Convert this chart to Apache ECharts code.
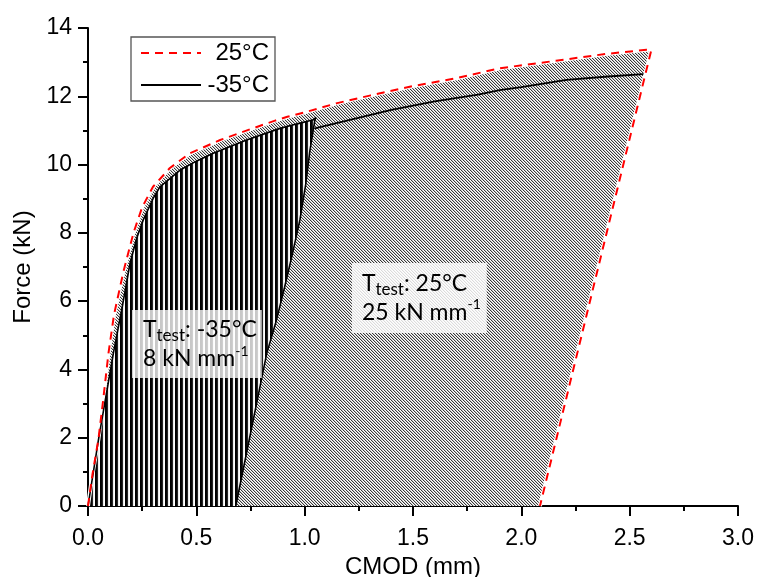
<!DOCTYPE html>
<html><head><meta charset="utf-8">
<script src="https://cdn.jsdelivr.net/npm/echarts@6/dist/echarts.min.js"></script>
<style>html,body{margin:0;padding:0;background:#fff}#c{width:759px;height:577px}</style>
</head><body><div id="c"></div>
<script>
// ---- data ----
const warmCMOD  = [0, 0.02, 0.048, 0.07, 0.094, 0.12, 0.163, 0.21, 0.25, 0.3, 0.378, 0.47, 0.61, 0.76, 0.86, 0.92, 1.0, 1.15, 1.3, 1.5, 1.7, 1.9, 2.16, 2.39, 2.578, 2.6, 2.086];
const warmForce = [0, 0.9, 1.95, 3.1, 4.45, 5.6, 6.85, 8.0, 8.75, 9.35, 9.9, 10.33, 10.72, 11.06, 11.28, 11.4, 11.53, 11.8, 12.02, 12.3, 12.53, 12.82, 13.04, 13.24, 13.36, 13.36, 0];
const coldCMOD  = [0, 0.048, 0.117, 0.16, 0.194, 0.225, 0.255, 0.3, 0.332, 0.425, 0.5, 0.578, 0.732, 0.886, 0.97, 1.04, 1.052];
const coldForce = [0, 1.93, 4.47, 5.9, 7.11, 7.85, 8.38, 9.0, 9.35, 9.84, 10.1, 10.33, 10.72, 11.06, 11.2, 11.31, 11.38];
const coldUnloadCMOD  = [1.052, 1.047, 1.024, 1.005, 0.978, 0.944, 0.907, 0.87, 0.825, 0.682];
const coldUnloadForce = [11.38, 11.3, 10.4, 9.43, 8.38, 7.4, 6.4, 5.45, 4.47, 0];
const coldTailCMOD  = [1.047, 1.209, 1.4, 1.6, 1.8, 1.9, 2.0, 2.209, 2.4, 2.563];
const coldTailForce = [11.06, 11.31, 11.6, 11.85, 12.05, 12.18, 12.27, 12.48, 12.58, 12.65];
const xTickLabels = ['0.0', '0.5', '1.0', '1.5', '2.0', '2.5', '3.0'];
const yTickLabels = ['0', '2', '4', '6', '8', '10', '12', '14'];
const legendNames = ['25°C', '-35°C'];
const note1 = '{a|T}{s|test}{a|: -35°C}\n{a|8 kN mm}{p|-1}';
const note2 = '{a|T}{s|test}{a|: 25°C}\n{a|25 kN mm}{p|-1}';
const note1Pos = [0.203, 5.74];
const note2Pos = [1.218, 7.12];

const zip = (a, b) => a.map((v, i) => [v, b[i]]);

function diagPattern() {
  const c = document.createElement('canvas'); c.width = 3; c.height = 3;
  const g = c.getContext('2d');
  g.fillStyle = '#fff'; g.fillRect(0, 0, 3, 3);
  for (let i = 0; i < 3; i++) {
    g.fillStyle = '#383838'; g.fillRect(i, i, 1, 1);
    g.fillStyle = '#c8c8c8'; g.fillRect((i + 1) % 3, i, 1, 1);
  }
  return c;
}
function vertPattern() {
  const c = document.createElement('canvas'); c.width = 5; c.height = 4;
  const g = c.getContext('2d');
  const cols = ['#000', '#050505', '#262626', '#ececec', '#fff'];
  cols.forEach((col, i) => { g.fillStyle = col; g.fillRect(i, 0, 1, 4); });
  return c;
}

const chart = echarts.init(document.getElementById('c'), null, { renderer: 'canvas' });
const axisFont = 'Liberation Sans, Arial, sans-serif';
const axisCommon = {
  type: 'value',
  axisLine: { show: true, lineStyle: { color: '#000', width: 2 } },
  axisTick: { show: true, inside: false, length: 10, lineStyle: { color: '#000', width: 2 } },
  minorTick: { show: true, splitNumber: 2, length: 5, lineStyle: { color: '#000', width: 2 } },
  splitLine: { show: false },
  minorSplitLine: { show: false },
  nameLocation: 'middle',
  nameTextStyle: { fontFamily: axisFont, fontSize: 24, color: '#000' }
};

chart.setOption({
  animation: false,
  backgroundColor: '#fff',
  grid: { left: 88, right: 21, top: 28, bottom: 71, containLabel: false, outerBoundsMode: 'none' },
  xAxis: Object.assign({}, axisCommon, {
    min: 0, max: 3, interval: 0.5,
    name: 'CMOD (mm)', nameGap: 44,
    axisLabel: { fontFamily: axisFont, fontSize: 23, color: '#000', margin: 21,
      formatter: (v) => xTickLabels[Math.round(v / 0.5)] }
  }),
  yAxis: Object.assign({}, axisCommon, {
    min: 0, max: 14, interval: 2,
    name: 'Force (kN)', nameGap: 49,
    axisLabel: { fontFamily: axisFont, fontSize: 23, color: '#000', margin: 16,
      formatter: (v) => yTickLabels[Math.round(v / 2)] }
  }),
  legend: {
    data: legendNames, orient: 'vertical', left: 131, top: 37,
    itemWidth: 60, itemHeight: 24, itemGap: 8,
    padding: [4, 6, 4, 9],
    borderColor: '#555', borderWidth: 1.3, backgroundColor: '#fff',
    selectedMode: false,
    itemStyle: { opacity: 0 },
    formatter: (n) => '{n|' + n + '}',
    textStyle: { fontFamily: axisFont, fontSize: 24, color: '#000',
      rich: { n: { width: 63, align: 'right', fontFamily: axisFont, fontSize: 24, color: '#000' } } }
  },
  series: [
    { name: 'area25', type: 'line', data: zip(warmCMOD, warmForce), symbol: 'none', silent: true,
      lineStyle: { opacity: 0, width: 0 },
      areaStyle: { color: { image: diagPattern(), repeat: 'repeat' }, opacity: 1 } },
    { name: 'area-35', type: 'line',
      data: zip(coldCMOD, coldForce).concat(zip(coldUnloadCMOD, coldUnloadForce)),
      symbol: 'none', silent: true,
      lineStyle: { opacity: 0, width: 0 },
      areaStyle: { color: { image: vertPattern(), repeat: 'repeat' }, opacity: 1 } },
    { name: 'gap25', type: 'line', data: zip(warmCMOD, warmForce), symbol: 'none', silent: true,
      lineStyle: { color: '#fff', width: 4 } },
    { name: 'edge-35', type: 'line',
      data: zip(coldCMOD, coldForce).concat(zip(coldUnloadCMOD, coldUnloadForce)),
      symbol: 'none', silent: true,
      lineStyle: { color: '#000', width: 1.6 } },
    { name: '-35°C', type: 'line', data: zip(coldTailCMOD, coldTailForce), symbol: 'none',
      lineStyle: { color: '#000', width: 1.8 }, itemStyle: { color: '#000' } },
    { name: '25°C', type: 'line', data: zip(warmCMOD, warmForce), symbol: 'none',
      lineStyle: { color: '#f00', width: 2, type: [8, 6] }, itemStyle: { color: '#f00' } }
  ]
});

const noteRich = {
  a: { fontFamily: 'Lato, sans-serif', fontSize: 23, lineHeight: 29, color: '#000' },
  s: { fontFamily: 'Lato, sans-serif', fontSize: 17, lineHeight: 17, verticalAlign: 'bottom', color: '#000' },
  p: { fontFamily: 'Lato, sans-serif', fontSize: 14, lineHeight: 25, verticalAlign: 'top', color: '#000' }
};
const p1 = chart.convertToPixel({ gridIndex: 0 }, note1Pos);
const p2 = chart.convertToPixel({ gridIndex: 0 }, note2Pos);
chart.setOption({
  graphic: [
    { type: 'text', x: p1[0], y: p1[1], z: 50,
      style: { text: note1, rich: noteRich, backgroundColor: 'rgba(255,255,255,0.78)', padding: [5, 5, 5, 11] } },
    { type: 'text', x: p2[0], y: p2[1], z: 50,
      style: { text: note2, rich: noteRich, backgroundColor: 'rgba(255,255,255,0.82)', padding: [6, 6, 6, 10] } }
  ]
});
</script></body></html>
